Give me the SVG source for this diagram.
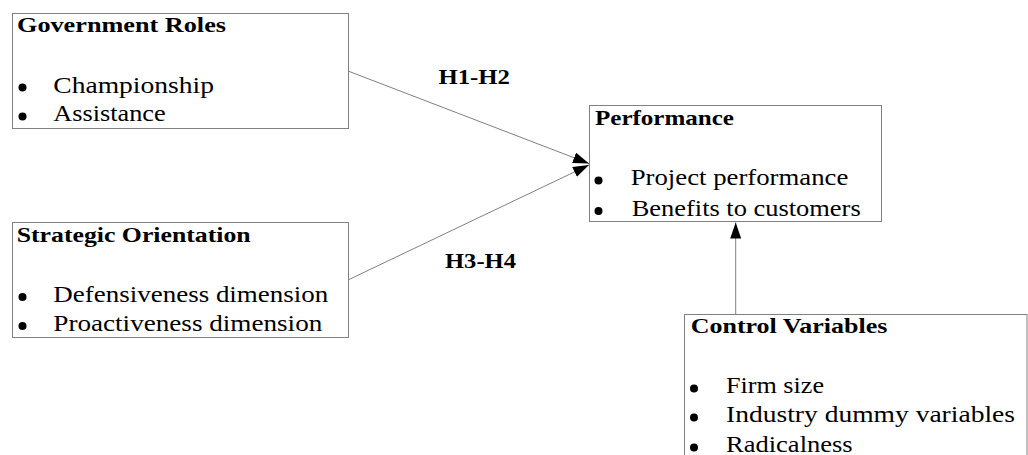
<svg xmlns="http://www.w3.org/2000/svg" width="1028" height="455" viewBox="0 0 1028 455">
<style>
.box{fill:#fff;stroke:#808080;stroke-width:1}
.t{font-family:'Liberation Serif', 'Times New Roman', serif;font-weight:bold;font-size:21px;fill:#000}
.b{font-family:'Liberation Serif', 'Times New Roman', serif;font-size:24px;fill:#000}
.dot{fill:#000}
.con{stroke:#808080;stroke-width:1;fill:none}
</style>
<defs>
<marker id="ah" markerUnits="userSpaceOnUse" markerWidth="17" markerHeight="12" refX="16" refY="5.5" orient="auto">
<path d="M0,0 L16,5.5 L0,11 z" fill="#000"/>
</marker>
</defs>
<rect width="1028" height="455" fill="#fff"/>
<g id="connectors">
<line class="con" x1="348" y1="71" x2="589" y2="163.5" marker-end="url(#ah)"/>
<line class="con" x1="348" y1="280" x2="589" y2="165" marker-end="url(#ah)"/>
<line class="con" x1="735.7" y1="314" x2="735.7" y2="222.5" marker-end="url(#ah)"/>
<text class="t" x="438.5" y="84" textLength="71.5" lengthAdjust="spacingAndGlyphs">H1-H2</text>
<text class="t" x="445" y="268" textLength="71" lengthAdjust="spacingAndGlyphs">H3-H4</text>
</g>
<g id="government-roles">
<rect class="box" x="12.5" y="13.5" width="336" height="115"/>
<text class="t" x="17" y="32" textLength="209" lengthAdjust="spacingAndGlyphs">Government Roles</text>
<circle class="dot" cx="22.5" cy="87.5" r="4"/>
<text class="b" x="53.3" y="92.5" textLength="160.7" lengthAdjust="spacingAndGlyphs">Championship</text>
<circle class="dot" cx="22.5" cy="116.5" r="4"/>
<text class="b" x="53.3" y="121" textLength="112.4" lengthAdjust="spacingAndGlyphs">Assistance</text>
</g>
<g id="strategic-orientation">
<rect class="box" x="12.5" y="222.5" width="336" height="115"/>
<text class="t" x="16.7" y="241.7" textLength="234" lengthAdjust="spacingAndGlyphs">Strategic Orientation</text>
<circle class="dot" cx="22.5" cy="297" r="4"/>
<text class="b" x="53.3" y="301.7" textLength="275" lengthAdjust="spacingAndGlyphs">Defensiveness dimension</text>
<circle class="dot" cx="22.5" cy="326" r="4"/>
<text class="b" x="53.3" y="330.7" textLength="269" lengthAdjust="spacingAndGlyphs">Proactiveness dimension</text>
</g>
<g id="performance">
<rect class="box" x="589.5" y="105.5" width="292" height="116"/>
<text class="t" x="595" y="125" textLength="139" lengthAdjust="spacingAndGlyphs">Performance</text>
<circle class="dot" cx="598.5" cy="180.5" r="4"/>
<text class="b" x="630.7" y="185" textLength="217.6" lengthAdjust="spacingAndGlyphs">Project performance</text>
<circle class="dot" cx="598.5" cy="211" r="4"/>
<text class="b" x="631.7" y="215.5" textLength="229" lengthAdjust="spacingAndGlyphs">Benefits to customers</text>
</g>
<g id="control-variables">
<rect class="box" x="684.5" y="314.5" width="342.5" height="200"/>
<text class="t" x="690.7" y="333.3" textLength="196.6" lengthAdjust="spacingAndGlyphs">Control Variables</text>
<circle class="dot" cx="694" cy="388.5" r="4"/>
<text class="b" x="726" y="393.3" textLength="98" lengthAdjust="spacingAndGlyphs">Firm size</text>
<circle class="dot" cx="694" cy="417.5" r="4"/>
<text class="b" x="726" y="421.7" textLength="289" lengthAdjust="spacingAndGlyphs">Industry dummy variables</text>
<circle class="dot" cx="694" cy="447.5" r="4"/>
<text class="b" x="726" y="452" textLength="126.7" lengthAdjust="spacingAndGlyphs">Radicalness</text>
</g>
</svg>
